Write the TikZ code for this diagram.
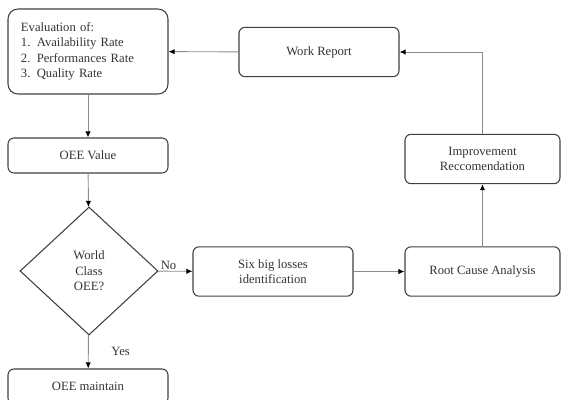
\documentclass[tikz,border=0pt]{standalone}
\usepackage{fontspec}
\setmainfont{Liberation Serif}
\usetikzlibrary{shapes.geometric,arrows.meta}
\begin{document}
\begin{tikzpicture}[
    x=0.75pt, y=-0.75pt,
    blk/.style={rectangle, draw=black!75, line width=0.8pt, rounded corners=4.5pt, minimum width=120pt, minimum height=37pt, align=center, text=black!80, font=\fontsize{9.5}{11.5}\selectfont, inner sep=2pt},
    dec/.style={diamond, draw=black!75, line width=0.8pt, minimum width=103.5pt, minimum height=96pt, inner sep=0pt, align=center, text=black!80, font=\fontsize{9.5}{11.5}\selectfont},
    flow/.style={draw=black!45, line width=0.7pt, -{Latex[length=4.5pt,width=4pt,black]}},
    lbl/.style={text=black!80, font=\fontsize{9.5}{11.5}\selectfont, inner sep=1pt}
  ]
    \clip (0,0) rectangle (561,400);
    \node[blk, rounded corners=7.5pt, minimum height=63.75pt, align=left, text width=100.5pt, inner xsep=9.75pt] (eval) at (88,51.5) {Evaluation of:\\1. Availability Rate\\2. Performances Rate\\3. Quality Rate};
    \node[blk] (work) at (319,52) {Work Report};
    \node[blk, minimum height=26.25pt] (oee) at (88,155.5) {OEE Value};
    \node[dec] (world) at (89,271) {World\\Class\\OEE?};
    \node[blk] (six) at (273,271.5) {Six big losses\\identification};
    \node[blk, minimum width=116.25pt] (root) at (482.5,271.5) {Root Cause Analysis};
    \node[blk, minimum width=116.25pt] (impr) at (482.5,159) {Improvement\\Reccomendation};
    \node[blk, minimum height=26.25pt] (keep) at (88,386.5) {OEE maintain};
    \draw[flow] (eval) -- (oee);
    \draw[flow] (oee) -- (world);
    \draw[flow] (world) -- node[lbl, above, pos=0.3] {No} (six);
    \draw[flow] (world) -- node[lbl, right, xshift=16pt] {Yes} (keep);
    \draw[flow] (six) -- (root);
    \draw[flow] (root) -- (impr);
    \draw[flow] (impr) |- (work);
    \draw[flow] (work) -- (eval);
  \end{tikzpicture}
\end{document}
